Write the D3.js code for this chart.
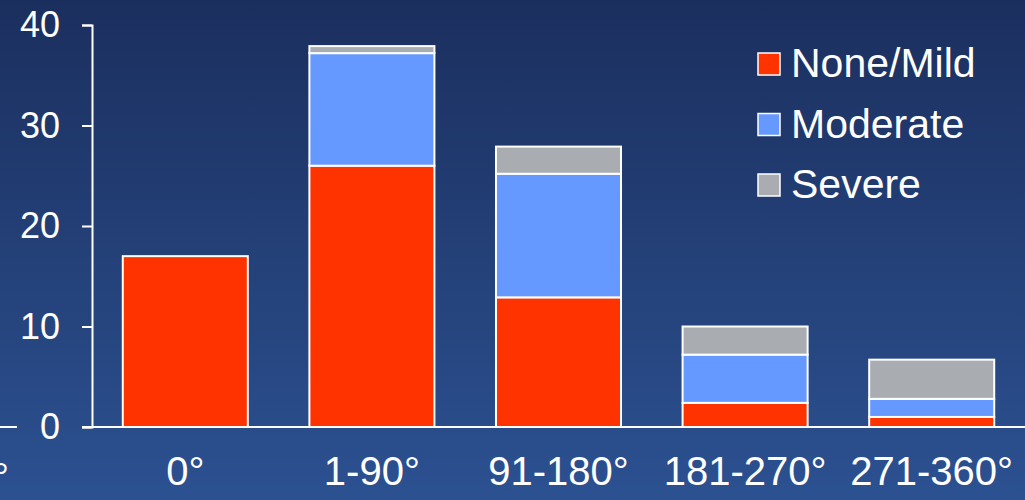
<!DOCTYPE html>
<html>
<head>
<meta charset="utf-8">
<script src="https://cdn.jsdelivr.net/npm/d3@7"></script>
<style>
  html, body { margin: 0; padding: 0; background: #23407a; }
  svg { display: block; }
  text { font-family: "Liberation Sans", Arial, sans-serif; fill: #ffffff; }
</style>
</head>
<body>
<svg id="chart" width="1025" height="500"></svg>
<script>
// Rotation range categories and stacked severity counts
const categories = ["0°", "1-90°", "91-180°", "181-270°", "271-360°"];
const noneMild = [17, 26, 12.9, 2.4, 1.0];
const moderate = [0, 11.2, 12.3, 4.8, 1.8];
const severe   = [0, 0.7, 2.7, 2.8, 3.9];
const seriesNames = ["None/Mild", "Moderate", "Severe"];
const seriesColors = ["#ff3300", "#6699ff", "#a9acb1"];
const yTicks = [0, 10, 20, 30, 40];

const W = 1025, H = 500;
const svg = d3.select("#chart");

// background gradient
const defs = svg.append("defs");
const grad = defs.append("linearGradient")
  .attr("id", "bg").attr("x1", 0).attr("y1", 0).attr("x2", 0).attr("y2", 1);
grad.append("stop").attr("offset", "0%").attr("stop-color", "#1b2f5e");
grad.append("stop").attr("offset", "100%").attr("stop-color", "#2c5191");
svg.append("rect").attr("width", W).attr("height", H).attr("fill", "url(#bg)");

const x = d3.scaleBand()
  .domain(categories)
  .range([92, 1025])
  .paddingInner(0.33)
  .paddingOuter(0.165);

const y = d3.scaleLinear().domain([0, 40]).range([427, 25]);

// stacked data
const rows = categories.map((c, i) => ({
  cat: c, "None/Mild": noneMild[i], "Moderate": moderate[i], "Severe": severe[i]
}));
const stacked = d3.stack().keys(seriesNames)(rows);

const layers = svg.append("g").selectAll("g")
  .data(stacked)
  .join("g")
  .attr("fill", (d, i) => seriesColors[i]);

layers.selectAll("rect")
  .data(d => d.filter(s => s[1] - s[0] > 0))
  .join("rect")
  .attr("x", d => x(d.data.cat))
  .attr("width", x.bandwidth())
  .attr("y", d => y(d[1]))
  .attr("height", d => y(d[0]) - y(d[1]))
  .attr("stroke", "#ffffff")
  .attr("stroke-width", 2);

// y axis
const yAxis = d3.axisLeft(y).tickValues(yTicks).tickSize(10).tickPadding(22).tickFormat(d3.format("d"));
const gy = svg.append("g").attr("transform", "translate(92,0)").call(yAxis);
gy.select(".domain").attr("stroke", "#ffffff").attr("stroke-width", 2);
gy.selectAll(".tick line").attr("stroke", "#ffffff").attr("stroke-width", 2);
gy.selectAll(".tick text")
  .attr("fill", "#ffffff")
  .style("font-size", "36px")
  .style("font-family", "'Liberation Sans', Arial, sans-serif");

// baseline across the plot
svg.append("line")
  .attr("x1", 82).attr("x2", W)
  .attr("y1", y(0)).attr("y2", y(0))
  .attr("stroke", "#ffffff").attr("stroke-width", 2);

// x axis labels
const xAxis = d3.axisBottom(x).tickSize(0).tickPadding(30);
const gx = svg.append("g").attr("transform", `translate(0,${y(0)})`).call(xAxis);
gx.select(".domain").remove();
gx.selectAll(".tick text")
  .attr("fill", "#ffffff")
  .style("font-size", "40px")
  .style("font-family", "'Liberation Sans', Arial, sans-serif");

// edge of neighbouring axis at the left border
svg.append("line")
  .attr("x1", 0).attr("x2", 17)
  .attr("y1", y(0)).attr("y2", y(0))
  .attr("stroke", "#ffffff").attr("stroke-width", 2);
svg.append("text")
  .attr("x", 9).attr("y", 491)
  .attr("text-anchor", "end")
  .style("font-size", "40px")
  .text("°");

// legend
const legend = svg.append("g").attr("transform", "translate(758,53)");
const items = legend.selectAll("g")
  .data(seriesNames)
  .join("g")
  .attr("transform", (d, i) => `translate(0,${i * 60.5})`);
items.append("rect")
  .attr("width", 22).attr("height", 22)
  .attr("fill", (d, i) => seriesColors[i])
  .attr("stroke", "#ffffff").attr("stroke-width", 1.5);
items.append("text")
  .attr("x", 33).attr("y", 24)
  .style("font-size", "41px")
  .text(d => d);
</script>
</body>
</html>
